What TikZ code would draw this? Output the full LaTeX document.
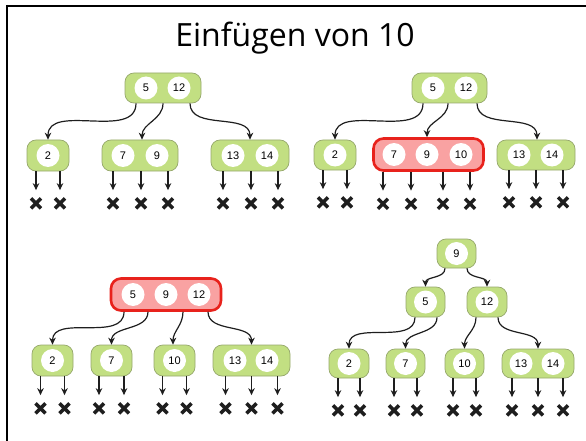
\documentclass[tikz,border=0pt]{standalone}
\usepackage{fontspec}
\setmainfont{Liberation Sans}
\newfontfamily\titlefont{Open Sans}
\usetikzlibrary{arrows.meta}

\definecolor{gfill}{RGB}{194,223,130}
\definecolor{gline}{RGB}{150,168,108}
\definecolor{rfill}{RGB}{249,162,162}
\definecolor{rline}{RGB}{232,34,28}
\definecolor{ink}{RGB}{30,30,30}

\tikzset{
  gbox/.style={draw=gline,fill=gfill,line width=0.7pt,rounded corners=9pt,
    minimum height=30pt,inner sep=0pt},
  rbox/.style={draw=rline,fill=rfill,line width=2.6pt,rounded corners=10pt,
    minimum height=32pt,minimum width=110pt,inner sep=0pt},
  key/.style={circle,fill=white,minimum size=23pt,inner sep=0pt,
    font=\fontsize{11}{13}\selectfont},
  ptr/.style={draw=ink,line width=1.2pt,-{Stealth[length=7pt,width=6.5pt]}},
  leafx/.style={minimum size=26pt,inner sep=0pt,
    path picture={\draw[ink,line width=3.4pt]
      ([shift={(-5pt,-5pt)}]path picture bounding box.center) --
      ([shift={(5pt,5pt)}]path picture bounding box.center)
      ([shift={(-5pt,5pt)}]path picture bounding box.center) --
      ([shift={(5pt,-5pt)}]path picture bounding box.center);}},
}

% a row of empty subtrees hanging below node #1 at the given x offsets
\newcommand\leafrow[2]{%
  \foreach \dx [count=\i] in {#2} {%
    \node[leafx] (#1-x\i) at ([xshift=\dx pt,yshift=-32pt]#1.south) {};
    \draw[ptr] (#1.south -| #1-x\i.north) -- (#1-x\i.north);
  }}

\begin{document}
\begin{tikzpicture}[x=1pt,y=-1pt]
\useasboundingbox (0,0) rectangle (586,441);

% frame
\draw[black,line width=2pt] (6,5.8) -- (586,5.8);
\draw[black,line width=2pt] (7.3,4.8) -- (7.3,441);

\node[anchor=base,font=\titlefont\fontsize{32}{38}\selectfont] (title) at (295,47) {Einfügen von 10};

% ---------- tree before insertion ----------
\node[gbox,minimum width=76pt] (t1r) at (163,88) {};
\node[key] (t1r-k1) at (146,88) {5};
\node[key] (t1r-k2) at (179,88) {12};
\node[gbox,minimum width=42pt,minimum height=31pt] (t1a) at (48,155.5) {};
\node[key] (t1a-k1) at (48,155.5) {2};
\node[gbox,minimum width=76pt,minimum height=31pt] (t1b) at (140,155.5) {};
\node[key] (t1b-k1) at (123,155.5) {7};
\node[key] (t1b-k2) at (157,155.5) {9};
\node[gbox,minimum width=78pt,minimum height=31pt] (t1c) at (250,155.5) {};
\node[key] (t1c-k1) at (233,155.5) {13};
\node[key] (t1c-k2) at (267,155.5) {14};
\draw[ptr] ([xshift=-27pt]t1r.south) to[out=-90,in=90] (t1a.north);
\draw[ptr] (t1r.south) to[out=-90,in=90] ([xshift=2pt]t1b.north);
\draw[ptr] ([xshift=27pt]t1r.south) to[out=-90,in=90] (t1c.north);
\leafrow{t1a}{-12,12}
\leafrow{t1b}{-27,1,28}
\leafrow{t1c}{-27,1,28}

% ---------- 10 added to the leaf: overflow ----------
\node[gbox,minimum width=75pt] (t2r) at (449.5,88) {};
\node[key] (t2r-k1) at (433,88) {5};
\node[key] (t2r-k2) at (466,88) {12};
\node[gbox,minimum width=42pt] (t2a) at (335,155) {};
\node[key] (t2a-k1) at (335,155) {2};
\node[rbox] (t2b) at (428.5,154.5) {};
\node[key] (t2b-k1) at (394,154.5) {7};
\node[key] (t2b-k2) at (427,154.5) {9};
\node[key] (t2b-k3) at (461,154.5) {10};
\node[gbox,minimum width=78pt] (t2c) at (536,155) {};
\node[key] (t2c-k1) at (519,155) {13};
\node[key] (t2c-k2) at (552,155) {14};
\draw[ptr] ([xshift=-26.5pt]t2r.south) to[out=-90,in=90] (t2a.north);
\draw[ptr] ([xshift=-1.5pt]t2r.south) to[out=-90,in=90] ([xshift=-1.5pt]t2b.north);
\draw[ptr] ([xshift=27.5pt]t2r.south) to[out=-90,in=90] ([xshift=1pt]t2c.north);
\leafrow{t2a}{-12,12}
\leafrow{t2b}{-45.5,-17.5,14.5,41.5}
\leafrow{t2c}{-27,0,27}

% ---------- split: 9 moves up into the root ----------
\node[rbox] (t3r) at (166,294.5) {};
\node[key] (t3r-k1) at (133,294.5) {5};
\node[key] (t3r-k2) at (166,294.5) {9};
\node[key] (t3r-k3) at (199,294.5) {12};
\node[gbox,minimum width=41pt,minimum height=31pt] (t3a) at (52.5,360.5) {};
\node[key] (t3a-k1) at (52.5,360.5) {2};
\node[gbox,minimum width=41pt,minimum height=31pt] (t3b) at (111.5,360.5) {};
\node[key] (t3b-k1) at (111.5,360.5) {7};
\node[gbox,minimum width=41pt,minimum height=31pt] (t3c) at (174.5,360.5) {};
\node[key] (t3c-k1) at (174.5,360.5) {10};
\node[gbox,minimum width=77pt,minimum height=31pt] (t3d) at (251.5,360.5) {};
\node[key] (t3d-k1) at (235,360.5) {13};
\node[key] (t3d-k2) at (267,360.5) {14};
\draw[ptr] ([xshift=-42pt]t3r.south) to[out=-90,in=90] (t3a.north);
\draw[ptr] ([xshift=-18pt]t3r.south) to[out=-90,in=90] (t3b.north);
\draw[ptr] ([xshift=17pt]t3r.south) to[out=-90,in=90] ([xshift=-1.5pt]t3c.north);
\draw[ptr] ([xshift=42pt]t3r.south) to[out=-90,in=90] (t3d.north);
\leafrow{t3a}{-12,12}
\leafrow{t3b}{-12.5,12.5}
\leafrow{t3c}{-12,12}
\leafrow{t3d}{-26,0,26}

% ---------- split root: new root 9 ----------
\node[gbox,minimum width=39pt,minimum height=29pt] (t4r) at (456.5,253.5) {};
\node[key] (t4r-k1) at (456.5,253.5) {9};
\node[gbox,minimum width=39pt] (t4l) at (425.5,302) {};
\node[key] (t4l-k1) at (425.5,302) {5};
\node[gbox,minimum width=40pt] (t4m) at (487,302) {};
\node[key] (t4m-k1) at (487,302) {12};
\node[gbox,minimum width=40pt,minimum height=29pt] (t4a) at (349,363.5) {};
\node[key] (t4a-k1) at (349,363.5) {2};
\node[gbox,minimum width=39pt,minimum height=29pt] (t4b) at (405.5,363.5) {};
\node[key] (t4b-k1) at (405.5,363.5) {7};
\node[gbox,minimum width=39pt,minimum height=29pt] (t4c) at (464.5,363.5) {};
\node[key] (t4c-k1) at (464.5,363.5) {10};
\node[gbox,minimum width=72pt,minimum height=29pt] (t4d) at (538,363.5) {};
\node[key] (t4d-k1) at (521,363.5) {13};
\node[key] (t4d-k2) at (553,363.5) {14};
\draw[ptr] ([xshift=-11.5pt]t4r.south) to[out=-90,in=90] (t4l.north);
\draw[ptr] ([xshift=10.5pt]t4r.south) to[out=-90,in=90] (t4m.north);
\draw[ptr] ([xshift=-10.5pt]t4l.south) to[out=-90,in=90] (t4a.north);
\draw[ptr] ([xshift=11.5pt]t4l.south) to[out=-90,in=90] (t4b.north);
\draw[ptr] ([xshift=-11pt]t4m.south) to[out=-90,in=90] (t4c.north);
\draw[ptr] ([xshift=11pt]t4m.south) to[out=-90,in=90] (t4d.north);
\leafrow{t4a}{-11,11}
\leafrow{t4b}{-11.5,11.5}
\leafrow{t4c}{-11.5,11.5}
\leafrow{t4d}{-26,0,25}
\end{tikzpicture}
\end{document}
